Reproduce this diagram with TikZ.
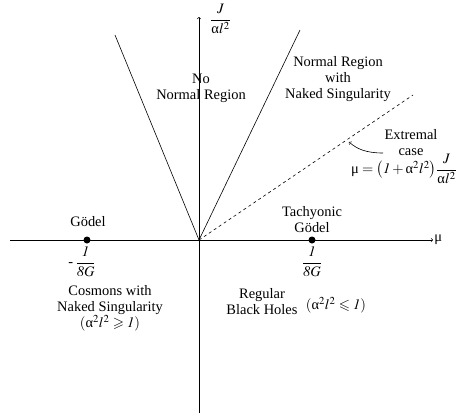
\documentclass[tikz,border=0pt]{standalone}
\usepackage{amsmath}
\usepackage{mathptmx}
\usepackage{amssymb}
\usepackage{fontspec}
\setmainfont{Liberation Serif}
\usetikzlibrary{positioning}
\newcommand{\gmu}{\text{μ}}
\newcommand{\galpha}{\text{α}}

\begin{document}
\begin{tikzpicture}[x=1bp,y=-1bp,line width=0.6bp,
	txt/.style={font=\fontsize{14.5}{16}\selectfont,align=center,inner sep=1pt},
	dot/.style={circle,fill,inner sep=0pt,minimum size=7bp}]
	\useasboundingbox (0,0) rectangle (464,417);
	% axes
	\coordinate (O) at (199,240);
	\coordinate (ybot) at (199,413);
	\coordinate (ytop) at (199,17);
	\coordinate (xleft) at (10,240);
	\coordinate (xright) at (433,240);
	\draw[->] (ybot) -- (ytop);
	\draw[->] (xleft) -- (xright);
	\node[txt,anchor=west] (jlab) at (209,19) {$\dfrac{J}{\galpha l^2}$};
	\node[txt,anchor=west] (mulab) at (xright) {μ};
	% region borders
	\coordinate (lft) at (115,35);
	\coordinate (rgt) at (300,30);
	\coordinate (ext) at (413,95);
	\draw (O) -- (lft);
	\draw (O) -- (rgt);
	\draw[dashed] (O) -- (ext);
	% region labels
	\node[txt] (nonormal) at (201,88) {No\\Normal Region};
	\node[txt] (normal) at (338,79) {Normal Region\\with\\Naked Singularity};
	\node[txt] (extcase) at (411,143) {Extremal\\case};
	\node[txt] (extform) at (404,169) {$\gmu=\bigl(\mathit{1}+\galpha^2l^2\bigr)\dfrac{J}{\galpha l^2}$};
	\coordinate (tip) at (349,142);
	\draw[->] (383,153) .. controls (366,153) and (357,149) .. (tip);
	% special points
	\node[dot] (godel) at (87,240) {};
	\node[txt] (godellab) at (88,222) {Gödel};
	\node[txt] (godelval) at (82,262) {-\,$\dfrac{\mathit{1}}{\mathit{8}G}$};
	\node[dot] (tgodel) at (312,240) {};
	\node[txt] (tgodellab) at (312,220) {Tachyonic\\Gödel};
	\node[txt] (tgodelval) at (312,262) {$\dfrac{\mathit{1}}{\mathit{8}G}$};
	% lower regions
	\node[txt] (cosmons) at (110,300) {Cosmons with\\Naked Singularity};
	\node[txt] (cosmcond) at (110,323) {$(\galpha^2l^2\geqslant\mathit{1})$};
	\node[txt] (regular) at (262,302) {Regular\\Black Holes};
	\node[txt] (regcond) at (336,305) {$(\galpha^2l^2\leqslant\mathit{1})$};
\end{tikzpicture}
\end{document}
